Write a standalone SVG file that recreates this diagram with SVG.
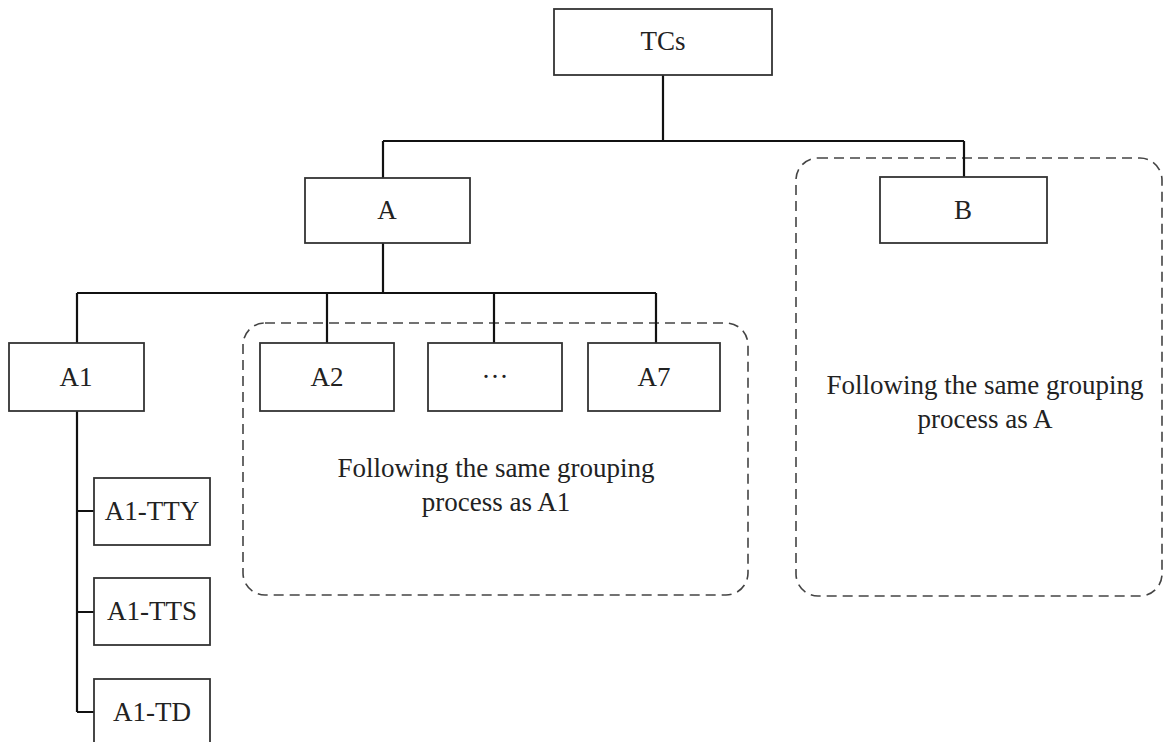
<svg xmlns="http://www.w3.org/2000/svg" width="1164" height="742" viewBox="0 0 1164 742">
<style>
.box{fill:#fff;stroke:#333;stroke-width:1.8}
.grp{fill:none;stroke:#444;stroke-width:1.6;stroke-dasharray:10 6}
.con{fill:none;stroke:#111;stroke-width:2.2}
text{font-family:"Liberation Serif","Times New Roman",serif;font-size:27px;fill:#222;text-anchor:middle}
</style>
<rect width="1164" height="742" fill="#fff"/>
<g id="groups">
<rect id="groupA2A7" class="grp" x="243" y="323" width="505" height="272" rx="22"/>
<rect id="groupB" class="grp" x="796" y="158" width="366" height="438" rx="22"/>
</g>
<g id="connectors">
<path class="con" d="M663 75V141M383 141H964M383 141V178M964 141V177"/>
<path class="con" d="M383 243V293M77 293H656M77 293V343M327 293V343M494 293V343M656 293V343"/>
<path class="con" d="M77 411V712M77 511H94M77 612H94M77 712H94"/>
</g>
<g id="TCs"><rect class="box" x="554" y="9" width="218" height="66"/><text x="663" y="50">TCs</text></g>
<g id="A"><rect class="box" x="305" y="178" width="165" height="65"/><text x="387" y="219">A</text></g>
<g id="B"><rect class="box" x="880" y="177" width="167" height="66"/><text x="963" y="219">B</text></g>
<g id="A1"><rect class="box" x="9" y="343" width="135" height="68"/><text x="76" y="386">A1</text></g>
<g id="A2"><rect class="box" x="260" y="343" width="134" height="68"/><text x="327" y="386">A2</text></g>
<g id="Adots"><rect class="box" x="428" y="343" width="134" height="68"/><text x="495" y="386">···</text></g>
<g id="A7"><rect class="box" x="588" y="343" width="132" height="68"/><text x="654" y="386">A7</text></g>
<g id="A1-TTY"><rect class="box" x="94" y="478" width="116" height="67"/><text x="152" y="520">A1-TTY</text></g>
<g id="A1-TTS"><rect class="box" x="94" y="578" width="116" height="67"/><text x="152" y="620">A1-TTS</text></g>
<g id="A1-TD"><rect class="box" x="94" y="679" width="116" height="70"/><text x="152" y="721">A1-TD</text></g>
<g id="labels">
<text x="496" y="477">Following the same grouping</text>
<text x="496" y="511">process as A1</text>
<text x="985" y="394">Following the same grouping</text>
<text x="985" y="428">process as A</text>
</g>
</svg>
